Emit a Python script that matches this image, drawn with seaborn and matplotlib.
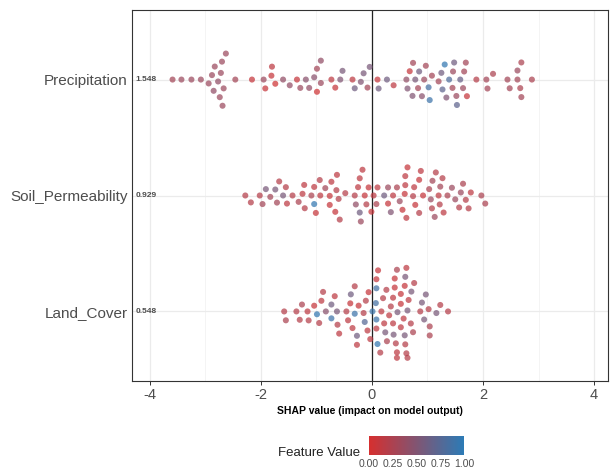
import matplotlib
matplotlib.use("Agg")
import matplotlib.pyplot as plt
import matplotlib.colors as mcolors
import numpy as np
import pandas as pd
import seaborn as sns

# features, top to bottom, and their mean |SHAP|
features = ["Precipitation", "Soil_Permeability", "Land_Cover"]
mean_abs = ["1.548", "0.929", "0.548"]

# SHAP values and scaled feature values
precip_shap = [-3.59, -3.43, -3.25, -3.08, -2.94, -2.88, -2.85, -2.83, -2.77, -2.74,
               -2.72, -2.70, -2.69, -2.67, -2.63, -2.46, -2.16, -1.95, -1.92, -1.81,
               -1.80, -1.74, -1.60, -1.48, -1.35, -1.29, -1.19, -1.13, -1.04, -0.99,
               -0.99, -0.92, -0.92, -0.73, -0.66, -0.57, -0.53, -0.35, -0.31, -0.20,
               -0.15, -0.08, -0.04, 0.10, 0.12, 0.27, 0.39, 0.62, 0.64, 0.68,
               0.74, 0.73, 0.78, 0.83, 0.85, 0.94, 0.90, 0.97, 1.02, 1.04,
               1.08, 1.20, 1.25, 1.27, 1.31, 1.34, 1.39, 1.45, 1.46, 1.48,
               1.52, 1.59, 1.53, 1.64, 1.66, 1.69, 1.71, 1.88, 2.06, 2.08,
               2.18, 2.44, 2.48, 2.62, 2.62, 2.69, 2.69, 2.67, 2.88]
precip_val = [0.30, 0.35, 0.35, 0.35, 0.35, 0.35, 0.40, 0.35, 0.40, 0.35,
              0.35, 0.35, 0.35, 0.35, 0.35, 0.30, 0.10, 0.35, 0.10, 0.10,
              0.15, 0.05, 0.40, 0.40, 0.10, 0.35, 0.45, 0.40, 0.45, 0.30,
              0.05, 0.35, 0.40, 0.15, 0.10, 0.50, 0.55, 0.15, 0.60, 0.50,
              0.55, 0.30, 0.55, 0.10, 0.60, 0.60, 0.15, 0.40, 0.50, 0.10,
              0.30, 0.50, 0.55, 0.30, 0.60, 0.35, 0.45, 0.30, 0.85, 0.90,
              0.30, 0.30, 0.60, 0.70, 0.95, 0.50, 0.80, 0.30, 0.35, 0.60,
              0.35, 0.65, 0.70, 0.35, 0.30, 0.30, 0.10, 0.20, 0.30, 0.30,
              0.25, 0.30, 0.30, 0.30, 0.35, 0.25, 0.30, 0.25, 0.25]

soil_shap = [-2.28, -2.18, -2.02, -1.97, -1.91, -1.83, -1.74, -1.71, -1.67, -1.60,
             -1.55, -1.53, -1.43, -1.32, -1.25, -1.22, -1.21, -1.09, -1.04, -1.04,
             -1.01, -0.94, -0.93, -0.84, -0.76, -0.76, -0.73, -0.64, -0.66, -0.63,
             -0.58, -0.60, -0.48, -0.31, -0.29, -0.25, -0.22, -0.20, -0.22, -0.17,
             -0.13, -0.10, -0.06, -0.01, 0.03, 0.08, 0.10, 0.22, 0.29, 0.29,
             0.34, 0.38, 0.45, 0.50, 0.55, 0.59, 0.60, 0.62, 0.64, 0.60,
             0.74, 0.76, 0.78, 0.85, 0.85, 0.88, 0.92, 1.03, 1.06, 1.08,
             1.09, 1.13, 1.15, 1.20, 1.22, 1.23, 1.27, 1.29, 1.36, 1.44,
             1.50, 1.57, 1.60, 1.64, 1.69, 1.78, 1.74, 1.97, 2.04]
soil_val = [0.20, 0.20, 0.20, 0.30, 0.55, 0.30, 0.55, 0.30, 0.20, 0.55,
            0.20, 0.15, 0.20, 0.25, 0.15, 0.15, 0.20, 0.25, 0.95, 0.15,
            0.10, 0.20, 0.15, 0.30, 0.10, 0.10, 0.15, 0.20, 0.10, 0.15,
            0.20, 0.20, 0.20, 0.20, 0.40, 0.15, 0.60, 0.35, 0.15, 0.15,
            0.10, 0.20, 0.10, 0.10, 0.15, 0.25, 0.15, 0.60, 0.10, 0.35,
            0.50, 0.15, 0.25, 0.35, 0.10, 0.10, 0.15, 0.15, 0.10, 0.15,
            0.20, 0.15, 0.10, 0.10, 0.20, 0.15, 0.10, 0.25, 0.35, 0.20,
            0.30, 0.35, 0.20, 0.15, 0.20, 0.30, 0.20, 0.15, 0.25, 0.35,
            0.35, 0.20, 0.35, 0.25, 0.20, 0.15, 0.20, 0.25, 0.25]

land_shap = [-1.58, -1.55, -1.36, -1.30, -1.26, -1.16, -1.14, -1.04, -0.99, -0.95,
             -0.91, -0.88, -0.83, -0.73, -0.73, -0.67, -0.63, -0.62, -0.59, -0.46,
             -0.43, -0.39, -0.38, -0.35, -0.31, -0.31, -0.27, -0.27, -0.24, -0.15,
             -0.13, -0.11, -0.08, -0.06, -0.03, 0.01, 0.08, 0.07, 0.08, 0.08,
             0.08, 0.10, 0.11, 0.15, 0.17, 0.20, 0.22, 0.24, 0.26, 0.27,
             0.31, 0.34, 0.38, 0.39, 0.41, 0.43, 0.45, 0.45, 0.46, 0.52,
             0.52, 0.57, 0.59, 0.59, 0.60, 0.62, 0.64, 0.62, 0.64, 0.66,
             0.70, 0.71, 0.74, 0.76, 0.38, 0.41, 0.45, 0.52, 0.60, 0.87,
             0.90, 0.94, 0.97, 1.02, 1.04, 1.04, 1.16, 1.23, 1.37]
land_val = [0.20, 0.25, 0.20, 0.20, 0.25, 0.15, 0.20, 0.10, 0.95, 0.20,
            0.15, 0.20, 0.45, 0.60, 0.90, 0.15, 0.55, 0.20, 0.15, 0.20,
            0.15, 0.10, 0.60, 0.15, 0.90, 0.20, 0.60, 0.15, 0.10, 0.20,
            0.75, 0.20, 0.15, 0.10, 0.15, 0.90, 0.90, 0.85, 0.15, 0.85,
            0.10, 0.95, 0.10, 0.20, 0.15, 0.20, 0.15, 0.55, 0.20, 0.25,
            0.15, 0.20, 0.15, 0.55, 0.10, 0.20, 0.15, 0.25, 0.55, 0.15,
            0.10, 0.15, 0.10, 0.55, 0.20, 0.15, 0.55, 0.20, 0.20, 0.15,
            0.20, 0.55, 0.25, 0.20, 0.15, 0.10, 0.15, 0.10, 0.55, 0.20,
            0.55, 0.55, 0.55, 0.20, 0.25, 0.25, 0.55, 0.20, 0.20]

tick_vals = [0.0, 0.25, 0.5, 0.75, 1.0]
tick_text = ["0.00", "0.25", "0.50", "0.75", "1.00"]

df = pd.concat([
    pd.DataFrame({"feature": features[0], "shap": precip_shap, "value": precip_val}),
    pd.DataFrame({"feature": features[1], "shap": soil_shap, "value": soil_val}),
    pd.DataFrame({"feature": features[2], "shap": land_shap, "value": land_val}),
], ignore_index=True)

sns.set_style("white")
plt.rcParams["font.family"] = ["Liberation Sans", "DejaVu Sans"]

cmap = mcolors.LinearSegmentedColormap.from_list("shap_rb", ["#D62F2F", "#2C7BB6"])
norm = mcolors.Normalize(0, 1)

fig = plt.figure(figsize=(6.1, 4.7), dpi=100)
ax = fig.add_axes([132 / 610, 1 - 381 / 470, 476 / 610, 371 / 470])

# grid first so points sit on top
for v in [-4, -2, 0, 2, 4]:
    ax.axvline(v, color="#EBEBEB", lw=0.9, zorder=0)
for v in [-3, -1, 1, 3]:
    ax.axvline(v, color="#F2F2F2", lw=0.6, zorder=0)
for i in range(len(features)):
    ax.axhline(i, color="#EBEBEB", lw=0.9, zorder=0)
ax.axvline(0, color="#222222", lw=0.9, zorder=1)

ax.set_xlim(-4.32, 4.25)
ax.set_ylim(2.6, -0.6)

# lay out the swarm with a wider spacing (sina-like spread), then shrink the dots
sns.swarmplot(data=df, x="shap", y="feature", hue="value", order=features,
              palette=cmap, hue_norm=(0, 1), size=6.2, alpha=0.72,
              linewidth=0, legend=False, ax=ax, zorder=3)
ax.set_xlim(-4.32, 4.25)
ax.set_ylim(2.6, -0.6)
fig.canvas.draw()
for coll in ax.collections:
    if "draw" in coll.__dict__:
        del coll.draw
    coll.set_sizes([19])

ax.set_xticks([-4, -2, 0, 2, 4])
ax.set_xticklabels(["-4", "-2", "0", "2", "4"])
ax.tick_params(axis="x", labelsize=10.5, labelcolor="#4D4D4D", length=3,
               color="#333333", width=0.7, bottom=True, pad=2)
ax.tick_params(axis="y", labelsize=11, labelcolor="#4D4D4D", length=0, pad=3)
ax.set_ylabel("")
ax.set_xlabel("SHAP value (impact on model output)", fontsize=7.5,
              fontweight="bold", color="black", labelpad=3)
for s in ax.spines.values():
    s.set_color("#333333")
    s.set_linewidth(0.8)

for i, lab in enumerate(mean_abs):
    ax.text(-4.25, i, lab, ha="left", va="center", fontsize=6,
            fontweight="bold", color="#4D4D4D")

# colour bar legend
cax = fig.add_axes([369 / 610, 1 - 455 / 470, 95 / 610, 19 / 470])
sm = plt.cm.ScalarMappable(cmap=cmap, norm=norm)
cb = fig.colorbar(sm, cax=cax, orientation="horizontal")
cb.outline.set_visible(False)
cb.set_ticks(tick_vals)
cb.set_ticklabels(tick_text)
cax.tick_params(labelsize=7.5, labelcolor="#4D4D4D", direction="in",
                color="white", length=4, width=0.6, top=True, pad=3)
fig.text(278 / 610, 1 - 453 / 470, "Feature Value", ha="left", va="center",
         fontsize=9.5, color="#222222")

fig.savefig("out.png", dpi=100)
